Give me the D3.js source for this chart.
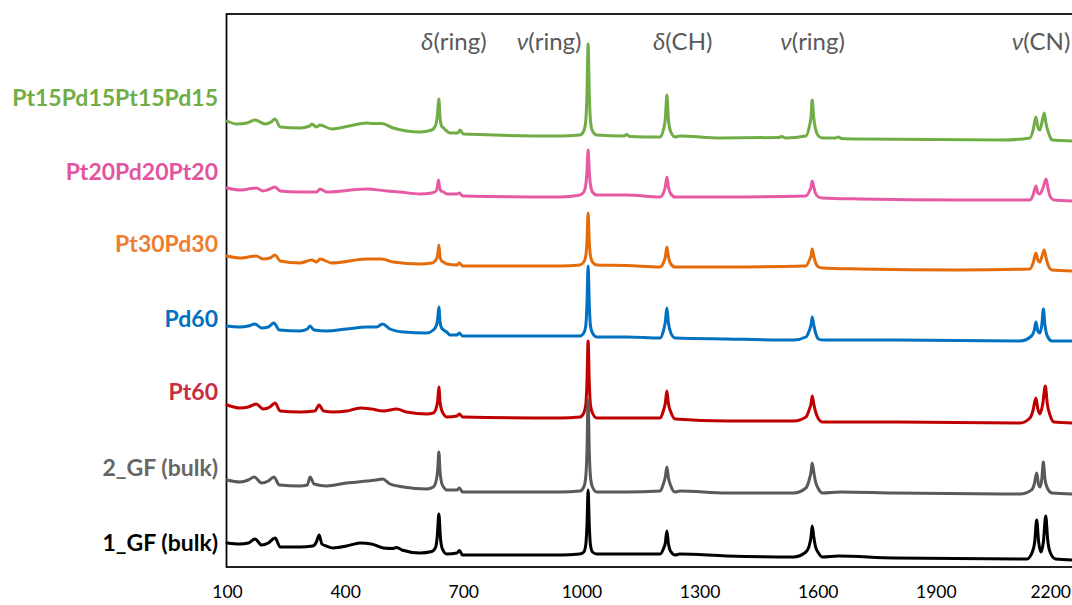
<!DOCTYPE html>
<html>
<head>
<meta charset="utf-8">
<script src="https://cdn.jsdelivr.net/npm/d3@7"></script>
<style>
  html, body { margin: 0; padding: 0; background: #fff; overflow: hidden; }
  svg { display: block; }
  text { font-family: Lato, "Open Sans", "DejaVu Sans", sans-serif; }
</style>
</head>
<body>
<svg id="chart" width="1072" height="605"></svg>
<script>
// Raman spectra (intensity in a.u. relative to each trace's own offset), wavenumber in cm-1
const seriesNames = ["1_GF (bulk)", "2_GF (bulk)", "Pt60", "Pd60", "Pt30Pd30", "Pt20Pd20Pt20", "Pt15Pd15Pt15Pd15"];
const seriesOffsets = [1.2, 7.5, 15.0, 23.1, 30.1, 37.0, 43.1];

const gf1 = [[100,1.2],[133,1.1],[154,1.2],[171,1.6],[188,1.0],[205,1.2],[222,1.7],[235,0.8],[285,0.8],[318,0.9],[327,1.3],[334,2.0],[341,1.1],[352,0.9],[370,0.7],[404,0.9],[438,1.2],[467,1.1],[497,0.7],[520,0.65],[531,0.75],[544,0.5],[590,0.2],[620,0.35],[630,0.8],[634,1.9],[638,4.1],[642,1.7],[647,0.6],[658,0.1],[684,0.2],[690,0.45],[698,0.0],[946,0.0],[996,0.1],[1006,0.3],[1011,1.0],[1014,2.9],[1017,6.5],[1020,2.9],[1023,1.0],[1028,0.3],[1039,0.1],[1115,0.1],[1200,0.1],[1208,0.6],[1213,1.2],[1217,2.4],[1221,1.1],[1226,0.4],[1238,0.0],[1250,0.1],[1369,-0.1],[1539,-0.2],[1570,0.3],[1579,1.0],[1583,1.8],[1586,2.9],[1590,1.8],[1594,0.9],[1602,0.2],[1612,-0.2],[1652,-0.1],[1792,-0.3],[2131,-0.4],[2145,0.3],[2151,1.3],[2156,3.5],[2161,1.3],[2167,0.3],[2173,1.3],[2179,3.9],[2184,1.5],[2190,0.3],[2204,-0.4],[2246,-0.5]];

const gf2 = [[100,1.2],[133,1.0],[154,1.2],[169,1.5],[188,0.9],[205,1.1],[219,1.5],[233,0.7],[285,0.6],[304,0.7],[311,1.5],[321,0.8],[353,0.6],[404,0.9],[455,1.1],[480,1.2],[495,1.3],[514,0.8],[548,0.5],[607,0.3],[624,0.5],[632,1.3],[635,2.2],[638,4.0],[641,2.0],[645,0.9],[650,0.5],[658,0.2],[684,0.2],[690,0.4],[698,0.0],[946,0.0],[996,0.1],[1006,0.5],[1011,1.5],[1014,4.0],[1017,9.2],[1020,4.0],[1023,1.5],[1028,0.5],[1039,0.0],[1115,0.0],[1200,0.1],[1208,0.8],[1213,1.5],[1217,2.5],[1221,1.4],[1227,0.6],[1238,0.0],[1250,0.1],[1369,-0.1],[1539,-0.1],[1570,0.4],[1579,1.3],[1583,2.0],[1586,2.9],[1590,2.0],[1594,1.1],[1602,0.3],[1612,-0.1],[1657,0.0],[1792,-0.1],[2114,-0.2],[2143,0.2],[2150,0.8],[2156,1.9],[2161,0.7],[2165,0.5],[2169,1.3],[2173,3.0],[2177,1.3],[2183,0.4],[2195,-0.1],[2246,-0.2]];

const pt60 = [[100,1.2],[133,0.9],[154,1.0],[174,1.3],[192,0.8],[209,1.0],[222,1.4],[235,0.6],[285,0.5],[323,0.6],[334,1.2],[345,0.6],[370,0.5],[404,0.6],[438,0.9],[467,0.8],[497,0.6],[531,0.8],[556,0.5],[607,0.3],[624,0.4],[632,1.0],[635,1.6],[638,3.0],[641,1.5],[645,0.7],[650,0.3],[658,0.0],[684,0.1],[690,0.3],[698,0.0],[946,-0.1],[996,0.0],[1006,0.4],[1011,1.2],[1014,3.4],[1017,7.6],[1020,3.4],[1023,1.2],[1028,0.4],[1039,-0.1],[1200,-0.1],[1208,0.6],[1213,1.4],[1217,2.6],[1221,1.3],[1227,0.5],[1238,-0.2],[1369,-0.4],[1539,-0.4],[1570,0.0],[1579,0.8],[1583,1.3],[1586,2.1],[1590,1.3],[1594,0.6],[1602,-0.2],[1612,-0.5],[1792,-0.5],[2114,-0.6],[2139,-0.1],[2147,0.7],[2154,1.9],[2159,0.8],[2164,0.3],[2171,1.2],[2178,3.1],[2183,1.3],[2189,0.3],[2200,-0.5],[2246,-0.6]];

const pd60 = [[100,1.0],[133,0.9],[154,1.0],[171,1.2],[188,0.8],[205,0.9],[219,1.3],[233,0.6],[285,0.5],[304,0.7],[311,1.0],[321,0.6],[353,0.5],[404,0.7],[455,0.9],[480,0.9],[495,1.2],[514,0.7],[548,0.4],[607,0.3],[624,0.6],[632,1.1],[635,1.7],[638,2.9],[641,1.4],[645,0.8],[650,0.6],[658,0.4],[666,0.1],[684,0.1],[690,0.3],[698,0.0],[946,0.0],[996,0.0],[1006,0.3],[1011,1.0],[1014,3.1],[1017,7.0],[1020,3.1],[1023,1.0],[1028,0.3],[1039,-0.1],[1115,-0.1],[1200,-0.2],[1208,0.5],[1213,1.4],[1217,2.8],[1221,1.3],[1227,0.3],[1238,-0.2],[1369,-0.3],[1539,-0.4],[1570,-0.1],[1579,0.6],[1583,1.1],[1586,1.9],[1590,1.1],[1594,0.4],[1602,-0.3],[1612,-0.4],[1792,-0.4],[2114,-0.5],[2143,0.0],[2150,0.6],[2154,1.4],[2159,0.5],[2164,0.3],[2169,1.1],[2173,2.7],[2177,1.1],[2183,0.0],[2195,-0.5],[2246,-0.5]];

const pt30pd30 = [[100,1.0],[133,0.8],[154,0.9],[174,1.0],[192,0.7],[209,0.8],[222,1.1],[235,0.5],[285,0.3],[315,0.6],[328,0.4],[336,0.7],[366,0.3],[455,0.7],[493,0.7],[522,0.4],[590,0.2],[620,0.3],[632,0.7],[635,1.1],[638,2.1],[641,0.9],[645,0.5],[650,0.4],[658,0.2],[684,0.1],[690,0.3],[698,0.0],[946,0.0],[996,0.1],[1006,0.4],[1011,1.0],[1014,2.4],[1017,5.3],[1020,2.4],[1023,1.0],[1028,0.4],[1039,0.1],[1115,0.05],[1200,-0.1],[1208,0.3],[1213,0.9],[1217,1.9],[1221,0.9],[1227,0.2],[1238,-0.1],[1369,-0.1],[1570,0.0],[1579,0.6],[1583,1.0],[1586,1.7],[1590,1.0],[1594,0.4],[1602,-0.1],[1612,-0.2],[1707,-0.3],[1961,-0.4],[2139,-0.3],[2147,0.3],[2154,1.3],[2159,0.6],[2164,0.4],[2169,0.9],[2175,1.6],[2180,0.8],[2186,0.0],[2195,-0.4],[2246,-0.5]];

const pt20pd20pt20 = [[100,0.9],[133,0.7],[154,0.8],[174,0.9],[192,0.6],[209,0.8],[222,1.0],[235,0.6],[285,0.5],[315,0.5],[328,0.5],[336,0.8],[353,0.5],[455,0.8],[506,0.6],[539,0.5],[590,0.3],[620,0.4],[631,0.6],[634,1.0],[637,1.7],[640,0.9],[644,0.6],[650,0.5],[658,0.3],[684,0.3],[690,0.4],[698,0.1],[946,0.0],[996,0.2],[1006,0.5],[1011,1.2],[1014,2.5],[1017,4.7],[1020,2.5],[1023,1.2],[1028,0.5],[1039,0.2],[1115,0.2],[1200,0.0],[1208,0.4],[1213,1.0],[1217,2.0],[1221,1.0],[1227,0.3],[1238,0.0],[1369,0.0],[1570,0.1],[1579,0.6],[1583,1.0],[1586,1.6],[1590,1.0],[1594,0.4],[1602,0.0],[1612,-0.1],[1707,-0.2],[1961,-0.3],[2139,-0.3],[2147,0.2],[2154,1.1],[2159,0.4],[2164,0.3],[2172,0.9],[2180,1.8],[2185,0.8],[2191,0.0],[2200,-0.3],[2246,-0.4]];

const pt15pd15pt15pd15 = [[100,1.5],[125,1.2],[150,1.3],[171,1.6],[197,1.2],[212,1.4],[222,1.7],[235,0.9],[285,0.8],[310,1.0],[315,1.2],[328,0.9],[336,1.1],[366,0.7],[410,1.0],[455,1.3],[470,1.25],[493,1.25],[522,0.8],[590,0.4],[620,0.6],[630,1.1],[634,2.0],[638,3.7],[641,1.8],[645,1.0],[650,0.8],[658,0.5],[666,0.3],[686,0.3],[692,0.6],[700,0.2],[946,0.0],[996,0.1],[1006,0.5],[1011,1.5],[1014,4.2],[1017,9.2],[1020,4.2],[1023,1.5],[1028,0.5],[1039,0.1],[1108,0.0],[1115,0.15],[1122,-0.05],[1200,-0.1],[1208,0.6],[1213,1.7],[1217,4.1],[1221,1.6],[1227,0.4],[1238,-0.1],[1250,0.0],[1352,-0.2],[1500,-0.15],[1509,-0.05],[1518,-0.2],[1570,0.0],[1579,1.0],[1583,1.9],[1586,3.6],[1590,1.8],[1594,0.8],[1602,0.0],[1612,-0.2],[1645,-0.2],[1652,-0.1],[1660,-0.25],[1707,-0.3],[2070,-0.4],[2139,-0.2],[2147,0.6],[2154,1.9],[2159,0.9],[2164,0.6],[2169,1.3],[2175,2.3],[2180,1.2],[2188,0.1],[2195,-0.4],[2246,-0.5]];

const seriesData = [gf1, gf2, pt60, pd60, pt30pd30, pt20pd20pt20, pt15pd15pt15pd15];

// Band assignments written along the top
const bandSymbols = ["δ", "ν", "δ", "ν", "ν"];
const bandModes = ["(ring)", "(ring)", "(CH)", "(ring)", "(CN)"];
const bandCenters = [676, 918, 1257, 1587, 2167];

const xTicks = [100, 400, 700, 1000, 1300, 1600, 1900, 2200];

// ---- styling / layout ----
const lineColors  = ["#000000", "#595959", "#C00000", "#0070C0", "#E46C0A", "#E65AA4", "#70AD47"];
const labelColors = ["#000000", "#666666", "#C72C41", "#0070C0", "#ED7D31", "#E254A0", "#70AD47"];
const labelBaselines = [551, 476, 400, 327, 252, 180, 106];
const drawOrder = [0, 2, 1, 3, 4, 5, 6];

const W = 1072;
const plot = { left: 227, right: 1054, top: 14, bottom: 567 };

const svg = d3.select("#chart");

const x = d3.scaleLinear().domain([100, 2200]).range([plot.left, plot.right]);
const y = d3.scaleLinear().domain([0, 55.3]).range([plot.bottom, plot.top]);

// frame (extends past the right edge of the view)
svg.append("rect")
  .attr("x", x(100) - 0.5)
  .attr("y", plot.top)
  .attr("width", x(2300) - x(100))
  .attr("height", plot.bottom - plot.top)
  .attr("fill", "none")
  .attr("stroke", "#000")
  .attr("stroke-width", 1.75);

// spectra
const line = d3.line()
  .x(d => x(d[0]))
  .y(d => d.y)
  .curve(d3.curveMonotoneX);

const gLines = svg.append("g");
drawOrder.forEach(i => {
  const pts = seriesData[i].map(d => { const p = [d[0], d[1]]; p.y = y(seriesOffsets[i] + d[1]); return p; });
  gLines.append("path")
    .attr("d", line(pts))
    .attr("fill", "none")
    .attr("stroke", lineColors[i])
    .attr("stroke-width", 3)
    .attr("stroke-linejoin", "round")
    .attr("stroke-linecap", "round");
});

// series names
seriesNames.forEach((name, i) => {
  svg.append("text")
    .attr("x", 218)
    .attr("y", labelBaselines[i])
    .attr("text-anchor", "end")
    .attr("font-weight", 700)
    .attr("font-size", 23)
    .attr("fill", labelColors[i])
    .text(name);
});

// band labels
bandSymbols.forEach((sym, i) => {
  const t = svg.append("text")
    .attr("x", x(bandCenters[i]))
    .attr("y", 49.5)
    .attr("text-anchor", "middle")
    .attr("font-size", 24)
    .attr("fill", "#595959");
  t.append("tspan").attr("font-style", "italic").text(sym);
  t.append("tspan").text(bandModes[i]);
});

// x axis
const axis = d3.axisBottom(x).tickValues(xTicks).tickSize(0).tickPadding(19).tickFormat(d3.format("d"));
const gAxis = svg.append("g").attr("transform", `translate(0,${plot.bottom})`).call(axis);
gAxis.select(".domain").remove();
gAxis.selectAll("text")
  .attr("font-size", 17.5)
  .attr("fill", "#000")
  .style("font-family", "Lato, 'Open Sans', sans-serif");

// keep the last tick label inside the view
gAxis.selectAll(".tick").each(function () {
  const tick = d3.select(this);
  const txt = tick.select("text");
  const box = this.getBoundingClientRect();
  const overflow = box.right - (W - 1);
  if (overflow > 0) txt.attr("x", -overflow);
});
</script>
</body>
</html>
